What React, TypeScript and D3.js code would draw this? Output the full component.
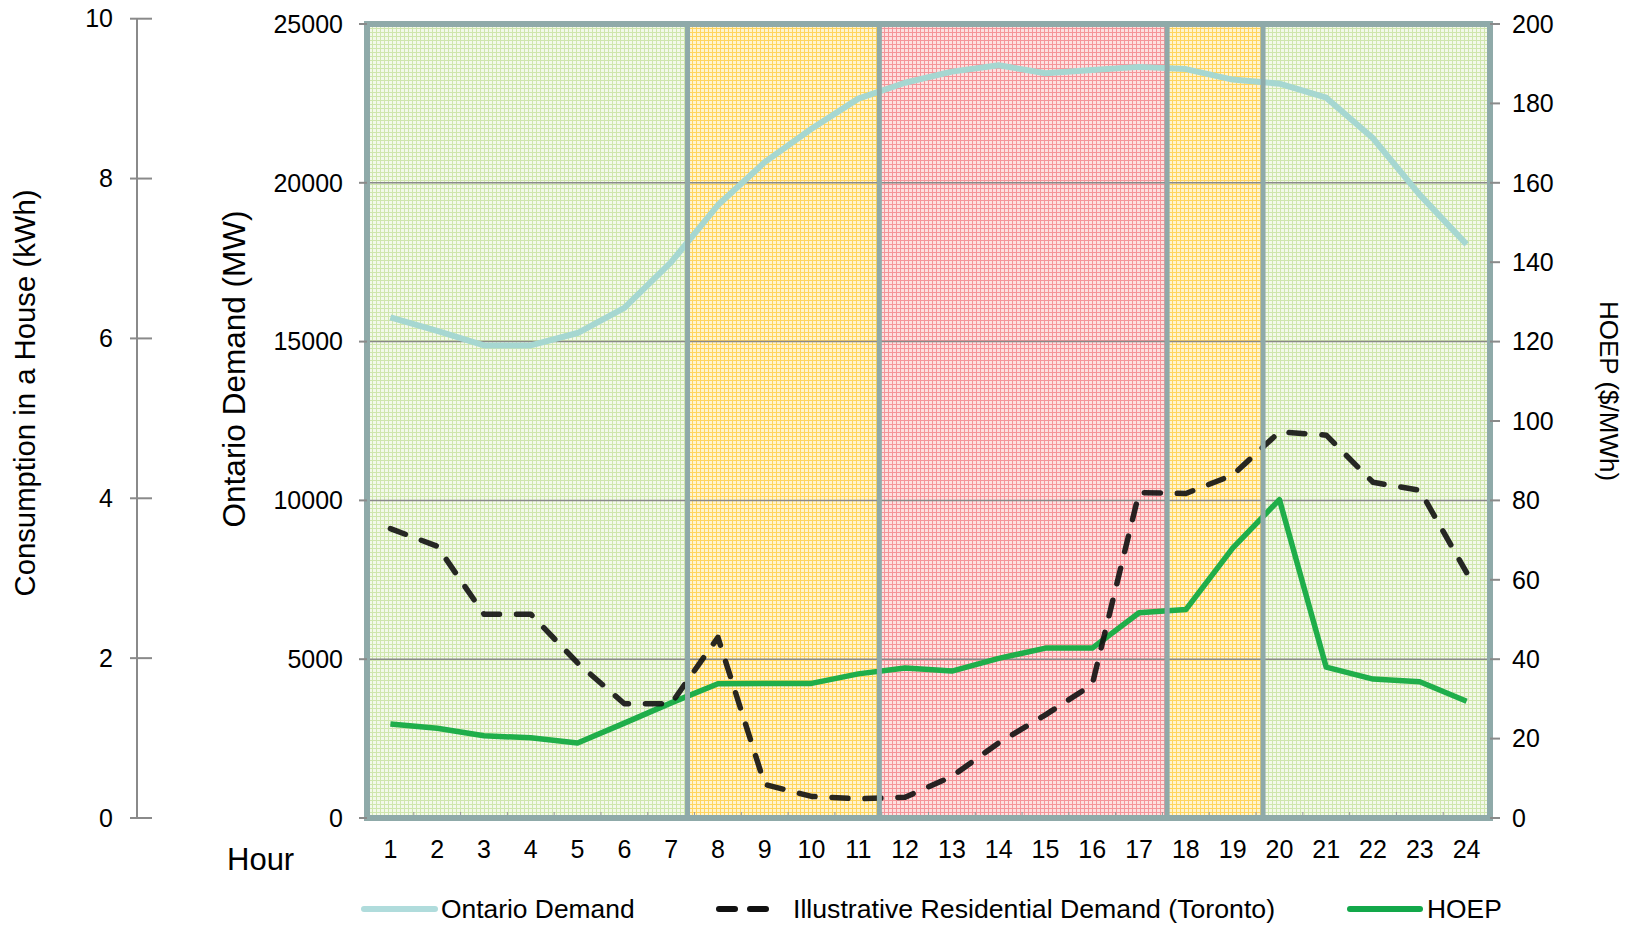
import React from 'react';
import * as d3 from 'd3';

const hours = [1, 2, 3, 4, 5, 6, 7, 8, 9, 10, 11, 12, 13, 14, 15, 16, 17, 18, 19, 20, 21, 22, 23, 24];
const ontarioDemand = [15765, 15340, 14880, 14880, 15270, 16060, 17500, 19300, 20650, 21700, 22650, 23150, 23500, 23700, 23450, 23550, 23650, 23580, 23250, 23120, 22680, 21400, 19620, 18060];
const residentialDemand = [3.62, 3.4, 2.55, 2.55, 1.94, 1.43, 1.43, 2.26, 0.42, 0.27, 0.24, 0.26, 0.52, 0.94, 1.29, 1.67, 4.07, 4.06, 4.29, 4.83, 4.79, 4.2, 4.1, 3.07];
const hoep = [23.7, 22.6, 20.7, 20.2, 18.9, 23.9, 29, 33.8, 33.9, 33.9, 36.3, 37.8, 37, 40.2, 42.8, 42.8, 51.7, 52.5, 68, 80.2, 38, 35, 34.3, 29.4];
const periodBreaks = [7.35, 11.45, 17.6, 19.65];
const periodKinds = ['off', 'mid', 'on', 'mid', 'off'];
const kwhTicks = [0, 2, 4, 6, 8, 10];
const mwTicks = [0, 5000, 10000, 15000, 20000, 25000];
const hoepTicks = [0, 20, 40, 60, 80, 100, 120, 140, 160, 180, 200];

const FONT = '"Liberation Sans", Arial, sans-serif';

export default function App() {
  const left = 367, right = 1490, top = 24, bottom = 818;
  const x = d3.scaleLinear().domain([0.5, 24.5]).range([left, right]);
  const yMW = d3.scaleLinear().domain([0, 25000]).range([bottom, top]);
  const yKwh = d3.scaleLinear().domain([0, 10]).range([bottom, 18.7]);
  const yHoep = d3.scaleLinear().domain([0, 200]).range([bottom, top]);

  const ontLine = d3.line<number>().x((_, i) => x(hours[i])).y(d => yMW(d))(ontarioDemand) || '';
  const resLine = d3.line<number>().x((_, i) => x(hours[i])).y(d => yKwh(d))(residentialDemand) || '';
  const hoepLine = d3.line<number>().x((_, i) => x(hours[i])).y(d => yHoep(d))(hoep) || '';

  const edges = [0.5, ...periodBreaks, 24.5];
  const fills: Record<string, string> = { off: 'url(#pGreen)', mid: 'url(#pYellow)', on: 'url(#pRed)' };
  const frame = '#8faaa9';

  return (
    <svg width={1631} height={926} style={{ position: 'absolute', left: 0, top: 0, display: 'block', background: '#fff' }} fontFamily={FONT}>
      <defs>
        <pattern id="pGreen" width={4} height={4} patternUnits="userSpaceOnUse">
          <rect width={4} height={4} fill="#f3f9ea" />
          <rect width={4} height={1} fill="#cfe6ad" />
          <rect width={1} height={4} fill="#cfe6ad" />
        </pattern>
        <pattern id="pYellow" width={4} height={4} patternUnits="userSpaceOnUse">
          <rect width={4} height={4} fill="#fff4d0" />
          <rect width={4} height={1} fill="#ffd55e" />
          <rect width={1} height={4} fill="#ffd55e" />
        </pattern>
        <pattern id="pRed" width={4} height={4} patternUnits="userSpaceOnUse">
          <rect width={4} height={4} fill="#fde0e0" />
          <rect width={4} height={1} fill="#f59599" />
          <rect width={1} height={4} fill="#f59599" />
        </pattern>
      </defs>

      {/* background periods */}
      {periodKinds.map((k, i) => (
        <rect key={i} x={x(edges[i])} y={top} width={x(edges[i + 1]) - x(edges[i])} height={bottom - top} fill={fills[k]} />
      ))}

      {/* gridlines */}
      {mwTicks.slice(1, -1).map(t => (
        <line key={t} x1={left} x2={right} y1={yMW(t)} y2={yMW(t)} stroke="#8a8a8a" strokeWidth={1.5} />
      ))}

      {/* bottom category ticks */}
      {d3.range(1, 24).map(i => (
        <line key={i} x1={x(i + 0.5)} x2={x(i + 0.5)} y1={bottom - 6} y2={bottom} stroke="#9a9a9a" strokeWidth={1} />
      ))}

      {/* lines */}
      <path d={ontLine} fill="none" stroke="#a6d7d1" strokeWidth={6} strokeLinejoin="round" />
      <path d={hoepLine} fill="none" stroke="#1fae4a" strokeWidth={5.5} strokeLinejoin="round" />
      <path d={resLine} fill="none" stroke="#111" strokeOpacity={0.9} strokeWidth={5.5} strokeDasharray="16 17" strokeLinecap="round" strokeLinejoin="round" />

      {/* dividers */}
      {periodBreaks.map(b => (
        <line key={b} x1={x(b)} x2={x(b)} y1={top} y2={bottom} stroke={frame} strokeWidth={5} />
      ))}
      <rect x={left} y={top} width={right - left} height={bottom - top} fill="none" stroke={frame} strokeWidth={6} />

      {/* left kWh axis */}
      <line x1={137} x2={137} y1={yKwh(10)} y2={yKwh(0)} stroke="#8a8a8a" strokeWidth={2} />
      {kwhTicks.map(t => (
        <g key={t}>
          <line x1={130} x2={152} y1={yKwh(t)} y2={yKwh(t)} stroke="#8a8a8a" strokeWidth={2} />
          <text x={113} y={yKwh(t)} dy="0.35em" textAnchor="end" fontSize={25}>{t}</text>
        </g>
      ))}
      <text transform="translate(35,393) rotate(-90)" textAnchor="middle" fontSize={29.3}>Consumption in a House (kWh)</text>

      {/* middle MW axis */}
      {mwTicks.map(t => (
        <g key={t}>
          <line x1={359} x2={left} y1={yMW(t)} y2={yMW(t)} stroke="#8a8a8a" strokeWidth={2} />
          <text x={343} y={yMW(t)} dy="0.35em" textAnchor="end" fontSize={25}>{t}</text>
        </g>
      ))}
      <text transform="translate(245,369) rotate(-90)" textAnchor="middle" fontSize={31.5}>Ontario Demand (MW)</text>

      {/* right HOEP axis */}
      {hoepTicks.map(t => (
        <g key={t}>
          <line x1={right} x2={1500} y1={yHoep(t)} y2={yHoep(t)} stroke="#8a8a8a" strokeWidth={2} />
          <text x={1512} y={yHoep(t)} dy="0.35em" textAnchor="start" fontSize={25}>{t}</text>
        </g>
      ))}
      <text transform="translate(1600,391) rotate(90)" textAnchor="middle" fontSize={26}>HOEP ($/MWh)</text>

      {/* x axis labels */}
      {hours.map(h => (
        <text key={h} x={x(h)} y={858} textAnchor="middle" fontSize={25}>{h}</text>
      ))}
      <text x={227} y={870} fontSize={31}>Hour</text>

      {/* legend */}
      <line x1={364} x2={435} y1={909} y2={909} stroke="#b0dcdc" strokeWidth={6} strokeLinecap="round" />
      <text x={441} y={918} fontSize={26.4}>Ontario Demand</text>
      <line x1={719} x2={780} y1={909} y2={909} stroke="#111" strokeWidth={6} strokeDasharray="16 15" strokeLinecap="round" />
      <text x={793} y={918} fontSize={26.7}>Illustrative Residential Demand (Toronto)</text>
      <line x1={1350} x2={1420} y1={909} y2={909} stroke="#12a84a" strokeWidth={6} strokeLinecap="round" />
      <text x={1427} y={918} fontSize={26.4}>HOEP</text>
    </svg>
  );
}
